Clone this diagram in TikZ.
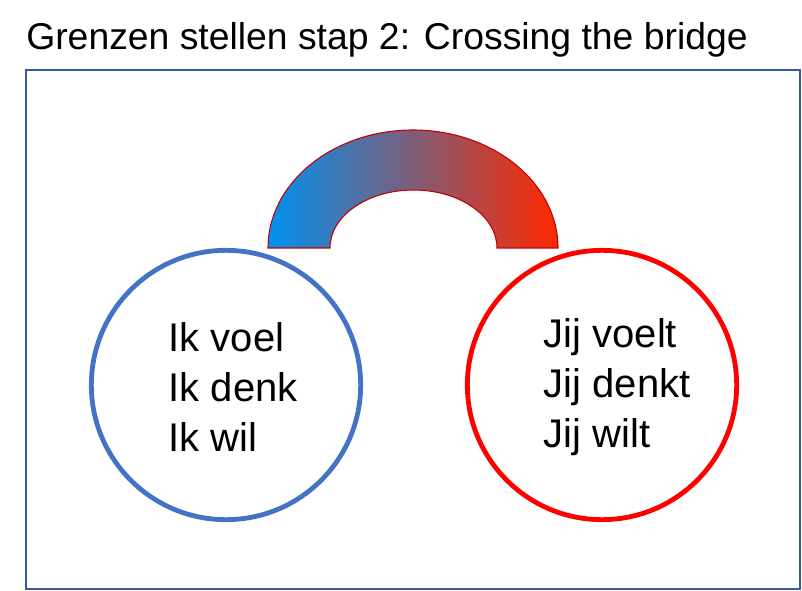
\documentclass[tikz,border=0pt]{standalone}
\usepackage{fontspec}
\setmainfont{Liberation Sans}
\begin{document}
\begin{tikzpicture}[x=0.75pt,y=-0.75pt,
  ring/.style={line width=3.6pt,inner sep=0,outer sep=0},
  body/.style={font=\fontsize{30}{37.5}\selectfont,align=left,anchor=west}]
\useasboundingbox (0,0) rectangle (802,591);
\definecolor{cblue}{HTML}{4472C4}
\definecolor{cred}{HTML}{FF0000}
\node[anchor=base west,inner sep=0,font=\fontsize{28}{32}\selectfont] (title) at (26,50) {Grenzen stellen stap 2: Crossing the bridge};
\draw[color=cblue!80!black,line width=1pt] (26,70) rectangle (800,589);
\shade[left color={rgb,255:red,0;green,145;blue,240},middle color={rgb,255:red,190;green,125;blue,200},right color={rgb,255:red,255;green,40;blue,0},draw={rgb,255:red,192;green,0;blue,0},line width=0.8pt]
  (268,248) arc[start angle=180,end angle=360,x radius=145,y radius=118]
  -- (497,248) arc[start angle=0,end angle=-180,x radius=83.5,y radius=58] -- cycle;
\node[circle,draw=cblue,ring,minimum size=202pt] (left) at (226,385) {};
\node[circle,draw=cred,ring,minimum size=202pt] (right) at (602,385) {};
\node[body] (lt) at (164,387) {Ik voel\\Ik denk\\Ik wil};
\node[body] (rt) at (539,387) {Jij voelt\\Jij denkt\\Jij wilt};
\end{tikzpicture}
\end{document}
